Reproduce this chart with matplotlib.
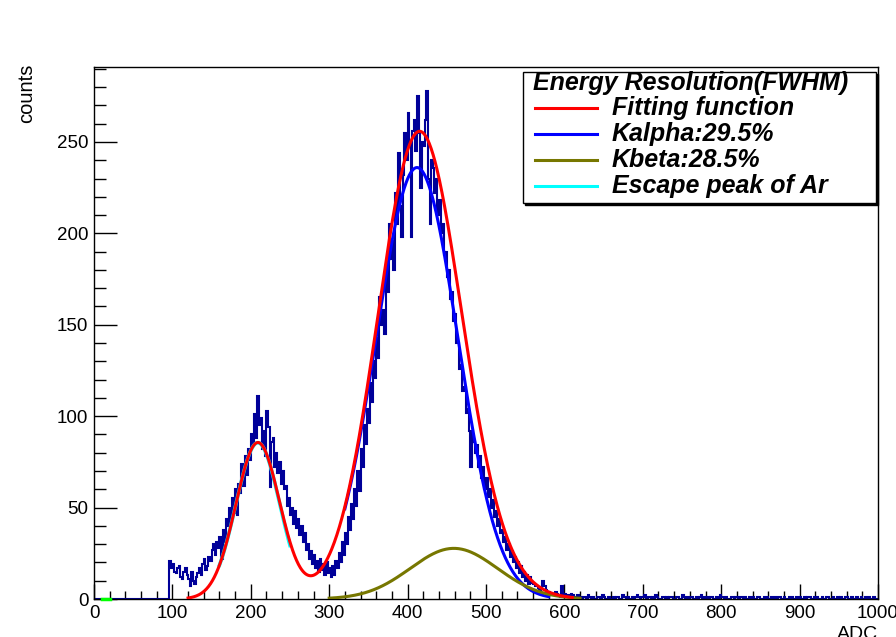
import numpy as np
import matplotlib
matplotlib.use("Agg")
import matplotlib.pyplot as plt
from matplotlib.patches import Rectangle
from matplotlib.lines import Line2D

plt.rcParams['font.family'] = ['Liberation Sans', 'DejaVu Sans']

# ---------------- data ----------------
bin_width = 2
bin_start = 0
counts_empty = [
    0, 0, 0, 0, 0, 0, 0, 0, 0, 0, 0, 0, 0, 0, 0, 0, 0, 0, 0, 0,   # 0-38
    0, 0, 0, 0, 0, 0, 0, 0, 0, 0, 0, 0, 0, 0, 0, 0, 0, 0, 0, 0,   # 40-78
    0, 0, 0, 0, 0, 0, 0, 0,                                       # 80-94
]
counts_peaks = [
    21, 17, 19, 15, 14, 17, 18, 12, 11, 15, 17, 13,                                   # 96-118
    11, 7, 15, 10, 8, 12, 14, 17, 13, 19, 22, 16, 18, 23, 21, 27, 30, 24, 31, 28,      # 120-158
    34, 22, 38, 31, 44, 40, 50, 43, 55, 47, 60, 46, 63, 58, 74, 62, 78, 68, 82, 76,    # 160-198
    90, 84, 101, 88, 111, 95, 99, 82, 92, 78, 103, 94, 61, 86, 88, 72, 80, 69, 75, 63,  # 200-238
    70, 60, 62, 51, 55, 46, 50, 41, 48, 39, 44, 35, 40, 31, 36, 27, 30, 22, 26, 19,    # 240-278
    24, 17, 21, 15, 22, 16, 19, 13, 20, 14, 17, 12, 18, 13, 21, 17, 25, 20, 31, 24,    # 280-318
    36, 30, 45, 38, 52, 44, 60, 51, 70, 59, 82, 72, 95, 85, 104, 96, 118, 108, 130, 121,  # 320-358
    143, 132, 165, 150, 158, 145, 182, 168, 205, 186, 196, 180, 222, 205, 244, 215, 198, 232, 255, 240,  # 360-398
    266, 248, 198, 256, 262, 245, 275, 255, 225, 250, 248, 262, 278, 230, 205, 240, 236, 222, 230, 210,  # 400-438
    218, 200, 205, 188, 190, 176, 180, 164, 168, 152, 156, 140, 140, 126, 128, 114, 116, 102, 104, 92,   # 440-478
    72, 92, 86, 80, 84, 72, 78, 66, 72, 60, 66, 56, 60, 50, 54, 45, 48, 40, 44, 36,    # 480-518
    38, 31, 34, 27, 30, 23, 26, 20, 23, 17, 20, 14, 18, 12, 15, 10, 13, 8, 12, 9,      # 520-558
    8, 7, 7, 6, 5, 6, 10, 7, 5, 4, 4, 3, 3, 2, 4, 3, 2, 1, 7, 3,                        # 560-598
    3, 2, 2, 1, 3, 2, 1, 1, 2, 1,                                                      # 600-618
]
counts_tail = [
    1, 0, 1, 1, 0, 2, 1, 0, 1, 0, 0, 1, 1, 0, 2, 1, 0, 0, 1, 0,   # 620-658
    0, 1, 0, 1, 1, 0, 0, 2, 1, 0, 1, 0, 0, 1, 0, 1, 2, 1, 0, 1,   # 660-698
    1, 2, 0, 1, 1, 0, 1, 0, 2, 1, 0, 0, 1, 1, 0, 1, 0, 1, 1, 0,   # 700-738
    0, 1, 1, 0, 0, 2, 1, 0, 1, 0, 1, 1, 0, 0, 1, 0, 1, 2, 0, 1,   # 740-778
    0, 1, 0, 1, 1, 0, 0, 1, 0, 2, 1, 1, 0, 1, 0, 0, 1, 1, 0, 1,   # 780-818
    1, 0, 1, 1, 0, 1, 0, 0, 1, 0, 1, 0, 0, 1, 1, 0, 0, 1, 0, 1,   # 820-858
    0, 0, 1, 0, 1, 0, 1, 1, 0, 0, 1, 0, 0, 1, 0, 1, 0, 0, 1, 0,   # 860-898
    1, 0, 0, 1, 0, 1, 1, 0, 0, 1, 0, 1, 0, 0, 1, 0, 0, 1, 1, 0,   # 900-938
    0, 1, 0, 0, 1, 0, 1, 0, 0, 1, 1, 0, 0, 1, 0, 0, 1, 0, 0, 1,   # 940-978
    0, 0, 1, 0, 1, 0, 0, 1, 0, 0,                                 # 980-998
]
counts = counts_empty + counts_peaks + counts_tail

# Gaussian fit parameters: (amplitude, mean, sigma)
escape_par = (85.5, 209.0, 28.0)
kalpha_par = (236.0, 412.0, 52.0)
kbeta_par = (27.7, 459.0, 55.5)

escape_range = (160, 250)
kalpha_range = (320, 580)
kbeta_range = (300, 620)
total_range = (120, 610)
green_range = (10, 20)

legend_header = "Energy Resolution(FWHM)"
legend_labels = ["Fitting function", "Kalpha:29.5%", "Kbeta:28.5%", "Escape peak of Ar"]

x_ticks = [0, 100, 200, 300, 400, 500, 600, 700, 800, 900, 1000]
y_ticks = [0, 50, 100, 150, 200, 250]

# ---------------- helpers ----------------
def gaus(x, p):
    a, m, s = p
    return a * np.exp(-0.5 * ((x - m) / s) ** 2)

# ---------------- figure ----------------
W, H = 896, 637
fig = plt.figure(figsize=(W / 100, H / 100), dpi=100)
L, R, T, B = 94, 878, 67, 599
ax = fig.add_axes([L / W, (H - B) / H, (R - L) / W, (B - T) / H])
ax.set_xlim(0, 1000)
ax.set_ylim(0, 291)

edges = bin_start + bin_width * np.arange(len(counts) + 1)
ax.stairs(counts, edges, color='#000099', lw=1.5, baseline=None, zorder=2)

xe = np.linspace(*escape_range, 300)
ax.plot(xe, gaus(xe, escape_par), color='#00ffff', lw=2.6, zorder=3)
xa = np.linspace(*kalpha_range, 400)
ax.plot(xa, gaus(xa, kalpha_par), color='#0000ff', lw=2.2, zorder=3)
xb = np.linspace(*kbeta_range, 400)
ax.plot(xb, gaus(xb, kbeta_par), color='#777700', lw=2.2, zorder=3)
xt = np.linspace(*total_range, 600)
ax.plot(xt, gaus(xt, escape_par) + gaus(xt, kalpha_par) + gaus(xt, kbeta_par),
        color='#ff0000', lw=2.2, zorder=4)
ax.plot(green_range, [0, 0], color='#00ff00', lw=2.5, zorder=5, clip_on=False)

# axes style (ROOT-like)
ax.set_xticks(x_ticks)
ax.set_yticks(y_ticks)
ax.set_xticks(np.arange(0, 1001, 20), minor=True)
ax.set_yticks(np.arange(0, 291, 10), minor=True)
ax.xaxis.set_tick_params(which='major', direction='in', length=10.8, width=1, pad=4, labelsize=13.5)
ax.xaxis.set_tick_params(which='minor', direction='in', length=5.8, width=1)
ax.yaxis.set_tick_params(which='major', direction='in', length=16.5, width=1, pad=4, labelsize=13.5)
ax.yaxis.set_tick_params(which='minor', direction='in', length=8.6, width=1)
for sp in ax.spines.values():
    sp.set_linewidth(1.0)

fig.text(27 / W, (H - 64) / H, 'counts', rotation=90, ha='center', va='top', fontsize=14.5)
fig.text(R / W, (H - 626) / H, 'ADC', ha='right', va='top', fontsize=14)

# legend box (ROOT TLegend with shadow)
def px2ax(px, py):
    return (px - L) / (R - L), (B - py) / (B - T)

lx0, ly1 = px2ax(523, 72)
lx1, ly0 = px2ax(876, 203)
sx, sy = 2 / (R - L), 2 / (B - T)
ax.add_patch(Rectangle((lx0 + sx, ly0 - sy), lx1 - lx0, ly1 - ly0, transform=ax.transAxes,
                       facecolor='black', edgecolor='black', lw=1, zorder=9, clip_on=False))
ax.add_patch(Rectangle((lx0, ly0), lx1 - lx0, ly1 - ly0, transform=ax.transAxes,
                       facecolor='white', edgecolor='black', lw=1, zorder=10, clip_on=False))

hx, hy = px2ax(533, 83)
ax.text(hx, hy, legend_header, transform=ax.transAxes, ha='left', va='center',
        fontsize=18, fontweight='bold', fontstyle='italic', zorder=11)
row_y = [108, 134, 160, 186]
colors = ['#ff0000', '#0000ff', '#777700', '#00ffff']
for yy, lab, c in zip(row_y, legend_labels, colors):
    x0, y0 = px2ax(535, yy)
    x1, _ = px2ax(597, yy)
    ax.add_line(Line2D([x0, x1], [y0, y0], transform=ax.transAxes, color=c, lw=2.2,
                       zorder=11, clip_on=False))
    tx, _ = px2ax(612, yy)
    ax.text(tx, y0, lab, transform=ax.transAxes, ha='left', va='center',
            fontsize=18, fontweight='bold', fontstyle='italic', zorder=11)

fig.savefig('out.png', dpi=100)
